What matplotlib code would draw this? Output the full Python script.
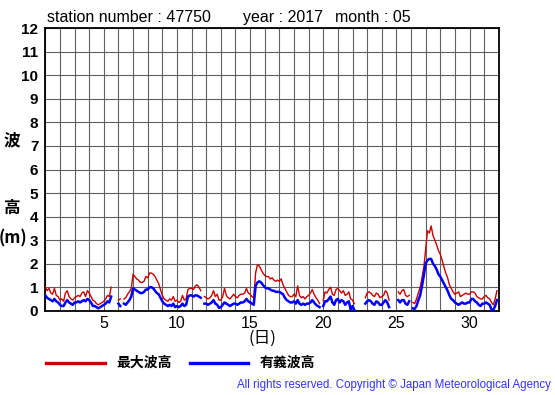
import numpy as np
import matplotlib
matplotlib.use("Agg")
import matplotlib.pyplot as plt
from matplotlib.lines import Line2D

nan = np.nan
station = "47750"
year = "2017"
month = "05"
samples_per_day = 8
days = list(range(1, 32))
x_ticks_labeled = [5, 10, 15, 20, 25, 30]
y_ticks = list(range(0, 13))

# maximum wave height (m), 3-hourly, one row per day
max_wave = [
    1.0, 0.85, 0.95, 0.75, 0.7, 0.95, 0.65, 0.6,
    0.45, 0.5, 0.4, 0.75, 0.85, 0.6, 0.5, 0.45,
    0.55, 0.6, 0.65, 0.6, 0.75, 0.8, 0.6, 0.85,
    0.75, 0.6, 0.45, 0.4, 0.3, 0.25, 0.3, 0.35,
    0.4, 0.5, 0.65, 0.6, 1.0, nan, nan, nan,
    0.45, 0.5, nan, 0.5, 0.55, 0.7, 0.8, 0.95,
    1.55, 1.45, 1.35, 1.3, 1.2, 1.2, 1.25, 1.45,
    1.4, 1.6, 1.6, 1.55, 1.45, 1.3, 1.15, 0.9,
    0.65, 0.5, 0.45, 0.4, 0.5, 0.45, 0.6, 0.4,
    0.45, 0.35, 0.4, 0.65, 0.45, 0.5, 0.9, 0.95,
    0.95, 0.9, 1.05, 1.1, 1.0, 0.85, nan, 0.6,
    0.55, 0.5, 0.55, 0.65, 0.85, 0.6, 0.7, 0.45,
    0.45, 0.6, 0.95, 0.65, 0.55, 0.5, 0.6, 0.7,
    0.6, 0.55, 0.65, 0.7, 0.7, 0.75, 0.95, 0.75,
    0.7, 0.6, 0.55, 1.6, 1.95, 1.9, 1.75, 1.6,
    1.5, 1.45, 1.45, 1.35, 1.4, 1.3, 1.25, 1.3,
    1.25, 1.35, 1.1, 0.95, 0.8, 0.65, 0.6, 0.6,
    0.7, 0.6, 1.05, 0.65, 0.55, 0.6, 0.5, 0.6,
    0.65, 0.75, 0.9, 0.7, 0.55, 0.45, 0.3, nan,
    0.45, 0.8, 0.75, 0.9, 1.0, 0.7, 0.65, 0.9,
    0.95, 0.85, 0.75, 0.85, 0.65, 0.7, 0.8, 0.5,
    0.45, 0.3, nan, nan, nan, nan, nan, 0.55,
    0.75, 0.8, 0.75, 0.65, 0.6, 0.75, 0.7, 0.55,
    0.6, 0.65, 0.85, 0.75, 0.45, nan, nan, 0.3,
    nan, 0.8, 0.7, 0.85, 0.9, 0.65, 0.6, 0.65,
    nan, 0.35, 0.3, 0.5, 0.75, 1.0, 1.4, 1.85,
    2.6, 3.4, 3.3, 3.6, 3.2, 3.0, 2.8, 2.55,
    2.4, 2.15, 1.85, 1.6, 1.4, 1.1, 0.95, 0.8,
    0.7, 0.75, 0.8, 0.6, 0.65, 0.7, 0.75, 0.7,
    0.7, 0.8, 0.8, 0.75, 0.6, 0.55, 0.5, 0.5,
    0.6, 0.65, 0.55, 0.5, 0.35, 0.25, 0.5, 0.85,
]

# significant wave height (m), 3-hourly, one row per day
sig_wave = [
    0.65, 0.55, 0.5, 0.45, 0.4, 0.5, 0.4, 0.35,
    0.25, 0.2, 0.2, 0.35, 0.45, 0.35, 0.3, 0.25,
    0.35, 0.35, 0.4, 0.35, 0.4, 0.45, 0.4, 0.5,
    0.45, 0.35, 0.2, 0.2, 0.15, 0.1, 0.15, 0.2,
    0.25, 0.3, 0.4, 0.35, 0.6, nan, nan, nan,
    0.3, 0.2, nan, 0.3, 0.25, 0.35, 0.45, 0.6,
    0.95, 0.9, 0.85, 0.8, 0.75, 0.75, 0.8, 0.9,
    0.9, 1.0, 1.0, 0.95, 0.85, 0.75, 0.7, 0.55,
    0.4, 0.3, 0.25, 0.2, 0.25, 0.2, 0.3, 0.15,
    0.2, 0.15, 0.2, 0.3, 0.2, 0.25, 0.6, 0.65,
    0.65, 0.6, 0.65, 0.65, 0.6, 0.55, nan, 0.3,
    0.3, 0.25, 0.3, 0.35, 0.45, 0.3, 0.25, 0.12,
    0.15, 0.25, 0.35, 0.3, 0.25, 0.2, 0.25, 0.3,
    0.3, 0.25, 0.3, 0.35, 0.35, 0.4, 0.5, 0.4,
    0.35, 0.3, 0.25, 1.05, 1.2, 1.25, 1.2, 1.1,
    1.0, 0.95, 0.95, 0.9, 0.85, 0.85, 0.8, 0.8,
    0.8, 0.75, 0.7, 0.55, 0.45, 0.4, 0.35, 0.35,
    0.4, 0.3, 0.45, 0.3, 0.25, 0.3, 0.25, 0.3,
    0.3, 0.35, 0.45, 0.35, 0.25, 0.2, 0.15, nan,
    0.2, 0.4, 0.4, 0.5, 0.6, 0.35, 0.25, 0.45,
    0.5, 0.35, 0.45, 0.4, 0.25, 0.35, 0.4, 0.03,
    0.2, 0.03, nan, nan, nan, nan, nan, 0.3,
    0.4, 0.45, 0.4, 0.3, 0.25, 0.4, 0.35, 0.25,
    0.25, 0.35, 0.45, 0.35, 0.15, nan, nan, 0.1,
    nan, 0.45, 0.35, 0.45, 0.45, 0.3, 0.25, 0.4,
    nan, 0.1, 0.08, 0.2, 0.45, 0.65, 1.05, 1.5,
    2.0, 2.15, 2.2, 2.2, 2.0, 1.9, 1.75, 1.55,
    1.45, 1.3, 1.15, 1.0, 0.85, 0.65, 0.5, 0.45,
    0.35, 0.3, 0.25, 0.3, 0.35, 0.3, 0.3, 0.35,
    0.35, 0.5, 0.5, 0.4, 0.35, 0.25, 0.2, 0.3,
    0.3, 0.35, 0.3, 0.25, 0.05, 0.03, 0.2, 0.45,
]

legend_labels = ["最大波高", "有義波高"]
red = "#cc0000"
blue = "#0000ff"
latin = ["Liberation Sans", "DejaVu Sans"]
cjk = ["Noto Sans CJK JP", "DejaVu Sans"]

W, H = 555, 395
fig = plt.figure(figsize=(W / 100, H / 100), dpi=100)
fig.patch.set_facecolor("white")

def fx(px):
    return px / W

def fy(py):
    return 1 - py / H

left, right, top, bottom = 45.3, 498.8, 28.3, 310.7
ax = fig.add_axes([fx(left), fy(bottom), fx(right) - fx(left), fy(top) - fy(bottom)])

t = days[0] + np.arange(len(max_wave)) / samples_per_day
ax.plot(t, max_wave, color=red, lw=1.0, zorder=3)
ax.plot(t, sig_wave, color=blue, lw=1.8, zorder=4)

ax.set_xlim(1, 32)
ax.set_ylim(0, 12)
xt = list(range(1, 33))
ax.set_xticks(xt)
ax.set_xticklabels([str(v) if v in x_ticks_labeled else "" for v in xt],
                   family=latin, fontsize=11.5)
ax.set_yticks(y_ticks)
ax.set_yticklabels([str(v) for v in y_ticks], family=latin, fontsize=11,
                   fontweight="bold")
ax.tick_params(axis="both", length=0)
ax.tick_params(axis="x", pad=4)
ax.tick_params(axis="y", pad=5)
ax.grid(True, color="#606060", lw=0.8, zorder=1)
ax.set_axisbelow(True)
for s in ax.spines.values():
    s.set_color("black")
    s.set_linewidth(1.3)

# title
fig.text(fx(47), fy(22), f"station number : {station}", family=latin,
         fontsize=11.5, va="baseline", ha="left")
fig.text(fx(243), fy(22), f"year : {year}", family=latin,
         fontsize=11.5, va="baseline", ha="left")
fig.text(fx(335), fy(22), f"month : {month}", family=latin,
         fontsize=11.5, va="baseline", ha="left")

# y label
fig.text(fx(12), fy(140), "波", family=cjk, fontsize=12, fontweight="bold",
         ha="center", va="center")
fig.text(fx(12), fy(208), "高", family=cjk, fontsize=12, fontweight="bold",
         ha="center", va="center")
fig.text(fx(13), fy(238), "(m)", family=cjk, fontsize=12, fontweight="bold",
         ha="center", va="center")

# x label
fig.text(fx(262.5), fy(338), "(日)", family=cjk, fontsize=12,
         ha="center", va="center")

# legend
fig.add_artist(Line2D([fx(45.7), fx(105.4)], [fy(363), fy(363)], color=red, lw=2.4))
fig.text(fx(116), fy(363), legend_labels[0], family=cjk, fontsize=10,
         fontweight="bold", ha="left", va="center")
fig.add_artist(Line2D([fx(190), fx(248)], [fy(363), fy(363)], color=blue, lw=2.4))
fig.text(fx(260), fy(363), legend_labels[1], family=cjk, fontsize=10,
         fontweight="bold", ha="left", va="center")

# copyright
fig.text(fx(551), fy(385), "All rights reserved. Copyright © Japan Meteorological Agency",
         family=latin, fontsize=8.3, color="#3333ff", ha="right", va="center")

fig.savefig("out.png", dpi=100, facecolor="white")
